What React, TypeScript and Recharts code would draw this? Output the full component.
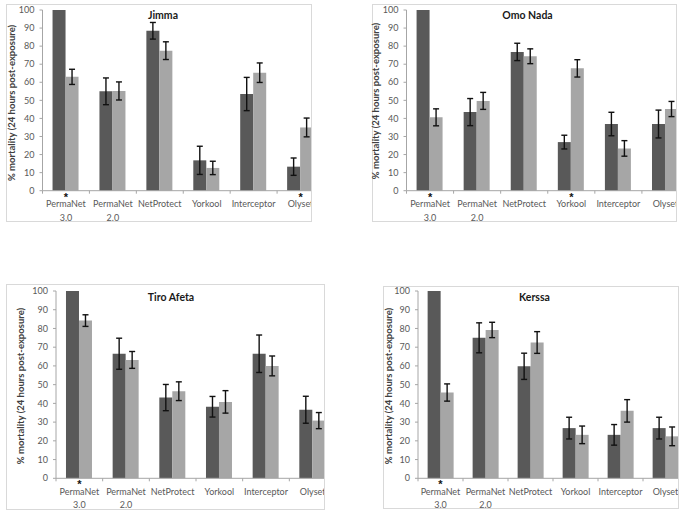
import React from 'react';
import { BarChart, Bar, XAxis, YAxis, ErrorBar } from 'recharts';

// ---------- data ----------
const categories = ['PermaNet 3.0', 'PermaNet 2.0', 'NetProtect', 'Yorkool', 'Interceptor', 'Olyset'];
const tickLines = [['PermaNet', '3.0'], ['PermaNet', '2.0'], ['NetProtect'], ['Yorkool'], ['Interceptor'], ['Olyset']];
const yTicks = [0, 10, 20, 30, 40, 50, 60, 70, 80, 90, 100];
const yLabel = '% mortality (24 hours post-exposure)';

const jimmaDark = [100, 55, 88.5, 16.8, 53.5, 13.3];
const jimmaDarkErr = [0, 7.4, 4.6, 7.8, 9.2, 4.8];
const jimmaLight = [63, 55.2, 77.5, 12.6, 65.3, 35];
const jimmaLightErr = [4.2, 5, 4.9, 3.7, 5.4, 5.2];
const jimmaStars = [true, false, false, false, false, true];

const omoDark = [100, 43.5, 76.8, 26.9, 36.9, 36.9];
const omoDarkErr = [0, 7.5, 4.8, 3.8, 6.5, 7.7];
const omoLight = [40.6, 49.7, 74.4, 67.7, 23.4, 45.2];
const omoLightErr = [4.7, 4.7, 4.1, 4.8, 4.3, 4.2];
const omoStars = [true, false, false, true, false, false];

const tiroDark = [100, 66.5, 43.1, 38.2, 66.5, 36.6];
const tiroDarkErr = [0, 8.3, 7, 5.5, 10, 7.2];
const tiroLight = [84.2, 63.2, 46.5, 40.8, 60, 30.8];
const tiroLightErr = [3.1, 4.5, 5, 6, 5.3, 4.3];
const tiroStars = [true, false, false, false, false, false];

const kerssaDark = [100, 75, 59.8, 26.8, 23.2, 26.8];
const kerssaDarkErr = [0, 8, 7, 5.8, 5.5, 5.8];
const kerssaLight = [45.8, 79.2, 72.5, 23.2, 36, 22.4];
const kerssaLightErr = [4.6, 4.1, 5.8, 4.7, 6, 5];
const kerssaStars = [true, false, false, false, false, false];

// ---------- layout ----------
const FONT = 'Lato, "Liberation Sans", Arial, sans-serif';
const DARK = '#595959';
const LIGHT = '#a6a6a6';
const AXIS = '#a6a6a6';
const TEXT = '#595959';

const panels = [
  {
    title: 'Jimma', dark: jimmaDark, darkErr: jimmaDarkErr, light: jimmaLight, lightErr: jimmaLightErr, stars: jimmaStars,
    frame: { left: 6, top: 4, width: 306, height: 218 },
    chart: { width: 318, yAxisWidth: 36.5, top: 6, xAxisHeight: 31.3 },
    titlePos: { x: 163, y: 19 }, labelPos: { x: 11.7, y: 103 },
  },
  {
    title: 'Omo Nada', dark: omoDark, darkErr: omoDarkErr, light: omoLight, lightErr: omoLightErr, stars: omoStars,
    frame: { left: 372, top: 4, width: 305, height: 218 },
    chart: { width: 317, yAxisWidth: 34.5, top: 6, xAxisHeight: 31.3 },
    titlePos: { x: 527.5, y: 19 }, labelPos: { x: 375, y: 101 },
  },
  {
    title: 'Tiro Afeta', dark: tiroDark, darkErr: tiroDarkErr, light: tiroLight, lightErr: tiroLightErr, stars: tiroStars,
    frame: { left: 6, top: 284, width: 319, height: 226 },
    chart: { width: 330, yAxisWidth: 50, top: 7, xAxisHeight: 31.7 },
    titlePos: { x: 171, y: 300.5 }, labelPos: { x: 20, y: 386 },
  },
  {
    title: 'Kerssa', dark: kerssaDark, darkErr: kerssaDarkErr, light: kerssaLight, lightErr: kerssaLightErr, stars: kerssaStars,
    frame: { left: 383, top: 286, width: 296, height: 223 },
    chart: { width: 305, yAxisWidth: 35, top: 5, xAxisHeight: 30.7 },
    titlePos: { x: 534.5, y: 300.5 }, labelPos: { x: 388, y: 386 },
  },
];

function XTick(props: any) {
  const { x, y, payload, index, visibleTicksCount, width } = props;
  const n = visibleTicksCount || categories.length;
  const band = width ? width / n : 46.7;
  const lines = tickLines[index] || [String(payload.value)];
  const star = props.stars && props.stars[index];
  return (
    <g>
      <line x1={x - band / 2} x2={x - band / 2} y1={y} y2={y + 3} stroke={AXIS} />
      {index === n - 1 && <line x1={x + band / 2} x2={x + band / 2} y1={y} y2={y + 3} stroke={AXIS} />}
      {star && (
        <text x={x} y={y + 10} textAnchor="middle" fontSize={11} fontWeight="bold" fill="#111" fontFamily='"Liberation Sans", Arial, sans-serif'>*</text>
      )}
      {lines.map((l: string, i: number) => (
        <text key={i} x={x} y={y + 16.5 + i * 13.5} textAnchor="middle" fontSize={9} fill={TEXT} fontFamily={FONT}>{l}</text>
      ))}
    </g>
  );
}

function Panel({ cfg }: { cfg: any }) {
  const data = categories.map((c, i) => ({
    name: c,
    dark: cfg.dark[i],
    darkErr: cfg.darkErr[i],
    light: cfg.light[i],
    lightErr: cfg.lightErr[i],
  }));
  return (
    <div
      style={{
        position: 'absolute', left: cfg.frame.left, top: cfg.frame.top, width: cfg.frame.width, height: cfg.frame.height,
        border: '1px solid #d9d9d9', boxSizing: 'border-box', overflow: 'hidden', background: '#fff',
      }}
    >
      <div style={{ position: 'absolute', left: -1, top: -1 }}>
        <BarChart
          width={cfg.chart.width}
          height={cfg.frame.height}
          data={data}
          margin={{ top: cfg.chart.top, right: 0, bottom: 0, left: 0 }}
          barCategoryGap="21.4%"
          barGap={0}
        >
          <XAxis
            dataKey="name"
            height={cfg.chart.xAxisHeight}
            interval={0}
            tickSize={0}
            tickMargin={0}
            tickLine={false}
            axisLine={{ stroke: AXIS }}
            tick={<XTick stars={cfg.stars} />}
          />
          <YAxis
            width={cfg.chart.yAxisWidth}
            domain={[0, 100]}
            ticks={yTicks}
            interval={0}
            tickSize={3}
            tickMargin={5}
            axisLine={{ stroke: AXIS }}
            tickLine={{ stroke: AXIS }}
            tick={{ fontSize: 9, fill: TEXT, fontFamily: FONT }}
          />
          <Bar dataKey="dark" fill={DARK} isAnimationActive={false}>
            <ErrorBar dataKey="darkErr" width={3} stroke="#111" strokeWidth={1.4} />
          </Bar>
          <Bar dataKey="light" fill={LIGHT} isAnimationActive={false}>
            <ErrorBar dataKey="lightErr" width={3} stroke="#111" strokeWidth={1.4} />
          </Bar>
        </BarChart>
      </div>
    </div>
  );
}

export default function App() {
  return (
    <div style={{ position: 'absolute', left: 0, top: 0, width: 685, height: 513, background: '#fff', fontFamily: FONT }}>
      {panels.map((p) => (
        <Panel key={p.title} cfg={p} />
      ))}
      <svg width={685} height={513} style={{ position: 'absolute', left: 0, top: 0, pointerEvents: 'none' }}>
        {panels.map((p) => (
          <g key={p.title}>
            <text x={p.titlePos.x} y={p.titlePos.y} textAnchor="middle" fontSize={10.5} fontWeight="bold" fill="#1a1a1a" fontFamily={FONT}>
              {p.title}
            </text>
            <text
              x={p.labelPos.x}
              y={p.labelPos.y}
              textAnchor="middle"
              dominantBaseline="central"
              fontSize={9.5}
              fontWeight="bold"
              fill="#404040"
              fontFamily={FONT}
              transform={`rotate(-90 ${p.labelPos.x} ${p.labelPos.y})`}
            >
              {yLabel}
            </text>
          </g>
        ))}
      </svg>
    </div>
  );
}
